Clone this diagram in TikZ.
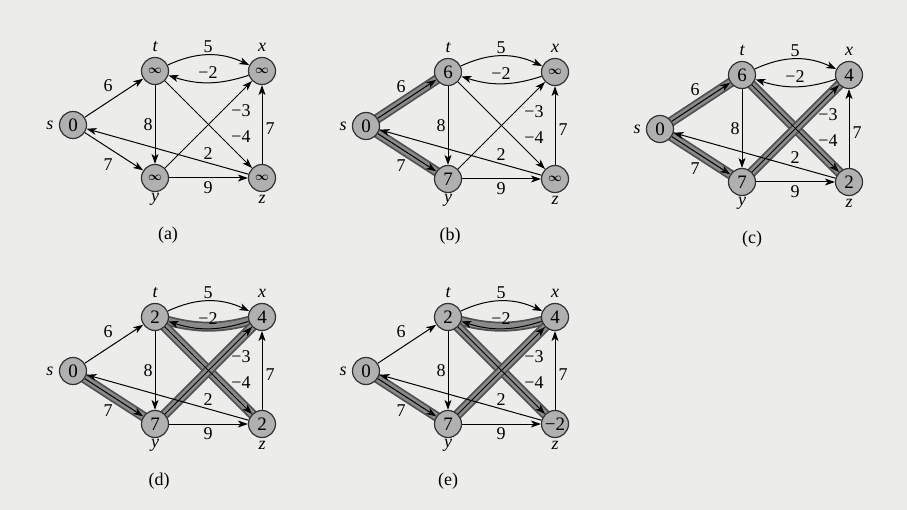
\documentclass[tikz,border=0pt]{standalone}
\usepackage{fontspec}
\setmainfont{Liberation Serif}
\usetikzlibrary{arrows.meta}
\pgfdeclarelayer{back}
\pgfdeclarelayer{bandlayer}
\pgfsetlayers{back,bandlayer,main}

\definecolor{paper}{RGB}{236,236,234}
\definecolor{vfill}{RGB}{176,176,176}
\definecolor{vdraw}{RGB}{50,50,50}
\definecolor{bandout}{RGB}{80,80,80}
\definecolor{bandin}{RGB}{138,138,138}

\tikzset{
  vert/.style={circle, draw=vdraw, fill=vfill, line width=1.2pt, minimum size=27pt, inner sep=0pt, font=\fontsize{19}{19}\selectfont},
  edge/.style={draw=black, line width=1pt, -{Stealth[length=10pt,width=7pt,inset=2.8pt]}},
  wlabel/.style={font=\fontsize{18}{18}\selectfont, inner sep=0pt},
  vname/.style={font=\fontsize{18}{18}\selectfont\itshape, inner sep=0pt},
  caption/.style={font=\fontsize{18}{18}\selectfont, inner sep=0pt},
  bandA/.style={draw=bandout, line width=10pt},
  bandB/.style={draw=bandin, line width=6.5pt},
}

\newcommand{\inft}{{\fontsize{13}{13}\selectfont\boldmath$\infty$}}

% #1 origin (position of t), #2 prefix, #3 caption, #4 caption x, #5..#9 values of s,t,x,y,z
\newcommand{\bfg}[9]{%
  \begin{scope}[shift={(#1)}]
    \node[vert] (#2-t) at (0,0) {#6};
    \node[vert] (#2-x) at (107,0) {#7};
    \node[vert] (#2-y) at (0,-107) {#8};
    \node[vert] (#2-z) at (107,-107) {#9};
    \node[vert] (#2-s) at (-82,-54) {#5};
    \node[vname] (#2-nt) at (0,24) {t};
    \node[vname] (#2-nx) at (107,24) {x};
    \node[vname] (#2-ns) at (-105,-54) {s};
    \node[vname] (#2-ny) at (0,-128) {y};
    \node[vname] (#2-nz) at (107,-128) {z};
    \draw[edge] (#2-s) -- (#2-t);
    \draw[edge] (#2-s) -- (#2-y);
    \draw[edge] (#2-t) to[bend left=25] (#2-x);
    \draw[edge] (#2-x) to[bend left=18] (#2-t);
    \draw[edge] (#2-t) -- (#2-y);
    \draw[edge] (#2-t) -- (#2-z);
    \draw[edge] (#2-y) -- (#2-x);
    \draw[edge] (#2-y) -- (#2-z);
    \draw[edge] (#2-z) -- (#2-x);
    \draw[edge] (#2-z) -- (#2-s);
    \node[wlabel] (#2-wtx) at (53,24) {5};
    \node[wlabel] (#2-wxt) at (53,-2) {−2};
    \node[wlabel] (#2-wst) at (-47,-15) {6};
    \node[wlabel] (#2-wty) at (-7,-54) {8};
    \node[wlabel] (#2-wyx) at (86,-40) {−3};
    \node[wlabel] (#2-wtz) at (86,-66) {−4};
    \node[wlabel] (#2-wzx) at (115,-58) {7};
    \node[wlabel] (#2-wzs) at (53,-83) {2};
    \node[wlabel] (#2-wsy) at (-47,-94) {7};
    \node[wlabel] (#2-wyz) at (53,-117) {9};
    \node[caption] (#2-cap) at (#4,-164) {#3};
  \end{scope}%
}

\newcommand{\bandline}[3][]{%
  \begin{pgfonlayer}{bandlayer}
    \path[bandA] (#2.center) to[#1] (#3.center);
    \path[bandB] (#2.center) to[#1] (#3.center);
  \end{pgfonlayer}%
}

\begin{document}
\begin{tikzpicture}[x=1pt,y=1pt]
  \useasboundingbox (0,0) rectangle (907,-510);
  \begin{pgfonlayer}{back}
    \fill[paper] (0,0) rectangle (907,-510);
  \end{pgfonlayer}

  \bfg{155,-71}{a}{(a)}{13}{0}{\inft}{\inft}{\inft}{\inft}
  \bfg{448,-72}{b}{(b)}{2}{0}{6}{\inft}{7}{\inft}
  \bfg{742,-75}{c}{(c)}{10}{0}{6}{4}{7}{2}
  \bfg{155,-317}{d}{(d)}{4}{0}{2}{4}{7}{2}
  \bfg{448,-317}{e}{(e)}{0}{0}{2}{4}{7}{−2}

  \bandline{b-s}{b-t}
  \bandline{b-s}{b-y}

  \bandline{c-s}{c-t}
  \bandline{c-s}{c-y}
  \bandline{c-t}{c-z}
  \bandline{c-y}{c-x}

  \bandline{d-s}{d-y}
  \bandline[bend left=18]{d-x}{d-t}
  \bandline{d-t}{d-z}
  \bandline{d-y}{d-x}

  \bandline{e-s}{e-y}
  \bandline[bend left=18]{e-x}{e-t}
  \bandline{e-t}{e-z}
  \bandline{e-y}{e-x}
\end{tikzpicture}
\end{document}
